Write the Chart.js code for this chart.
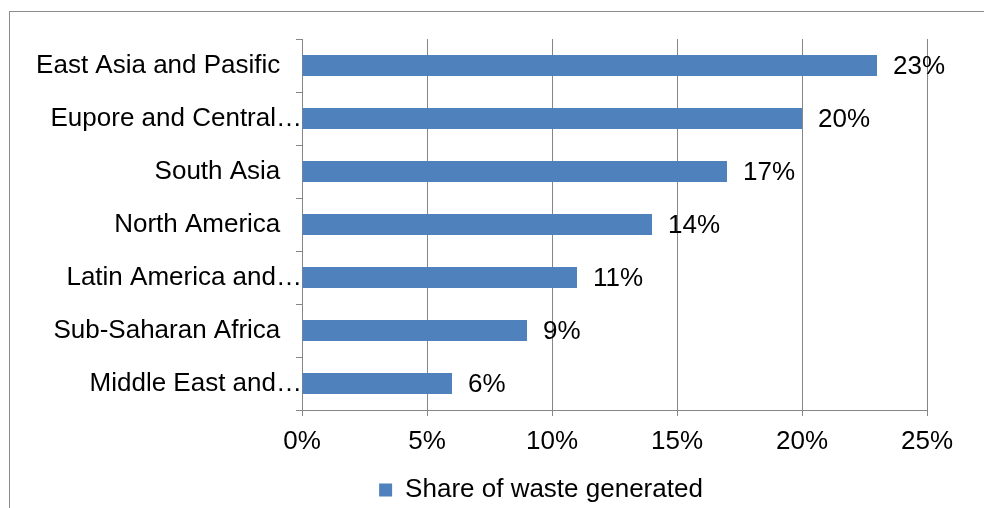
<!DOCTYPE html>
<html>
<head>
<meta charset="utf-8">
<script src="https://cdn.jsdelivr.net/npm/chart.js@4.4.0/dist/chart.umd.min.js"></script>
<style>
  html, body { margin: 0; padding: 0; background: #fff; overflow: hidden; width: 984px; height: 508px; }
  #frame {
    position: absolute; left: 9px; top: 11px;
    border-left: 1px solid #8c8c8c; border-top: 1px solid #8c8c8c;
  }
  #frame canvas { display: block; }
</style>
</head>
<body>
<div id="frame"><canvas id="myChart" width="1062" height="502"></canvas></div>
<script>
// regions, top to bottom
var regions = [
    'East Asia and Pasific',
    'Eupore and Central\u2026',
    'South Asia',
    'North America',
    'Latin America and\u2026',
    'Sub-Saharan Africa',
    'Middle East and\u2026'
];
// share of waste generated, %
var shares = [23, 20, 17, 14, 11, 9, 6];
var xTicks = [0, 5, 10, 15, 20, 25];

var seriesName = 'Share of waste generated';
var barColor = '#4f81bd';
var gridColor = '#868686';
var fontFamily = '"Liberation Sans", Arial, sans-serif';
var fontSize = 26;

Chart.defaults.font.family = fontFamily;
Chart.defaults.font.size = fontSize;
Chart.defaults.color = '#000';

// value labels to the right of each bar
var valueLabels = {
    id: 'valueLabels',
    afterDatasetsDraw: function (chart) {
        var ctx = chart.ctx;
        var meta = chart.getDatasetMeta(0);
        ctx.save();
        ctx.font = fontSize + 'px ' + fontFamily;
        ctx.fillStyle = '#000';
        ctx.textAlign = 'left';
        ctx.textBaseline = 'middle';
        meta.data.forEach(function (bar, i) {
            ctx.fillText(chart.data.datasets[0].data[i] + '%', bar.x + 16, bar.y + 1);
        });
        ctx.restore();
    }
};

var ctx = document.getElementById('myChart').getContext('2d');
var chart = new Chart(ctx, {
    type: 'bar',
    data: {
        labels: regions,
        datasets: [{
            label: seriesName,
            data: shares,
            backgroundColor: barColor,
            borderWidth: 0,
            categoryPercentage: 0.4,
            barPercentage: 1
        }]
    },
    options: {
        indexAxis: 'y',
        responsive: false,
        animation: false,
        layout: { padding: { left: 0, right: 0, top: 27, bottom: 1 } },
        scales: {
            x: {
                min: xTicks[0],
                max: xTicks[xTicks.length - 1],
                afterBuildTicks: function (scale) {
                    scale.ticks = xTicks.map(function (v) { return { value: v }; });
                },
                afterFit: function (scale) { scale.height = 57; },
                ticks: {
                    padding: 10,
                    maxRotation: 0,
                    callback: function (v) { return v + '%'; }
                },
                grid: { color: gridColor, tickLength: 6 },
                border: { color: gridColor }
            },
            y: {
                afterFit: function (scale) { scale.width = 292; },
                ticks: {
                    padding: -6,
                    callback: function (v) {
                        var s = this.getLabelForValue(v);
                        return s.slice(-1) === '\u2026' ? s : s + '   ';
                    }
                },
                grid: { color: gridColor, drawOnChartArea: false, tickLength: 6 },
                border: { color: gridColor }
            },
            // empty space on the right of the plot
            spacer: {
                type: 'linear',
                position: 'right',
                afterFit: function (scale) { scale.width = 145; },
                ticks: { display: false },
                grid: { display: false },
                border: { display: false }
            }
        },
        plugins: {
            legend: {
                position: 'bottom',
                labels: { boxWidth: 13, boxHeight: 13, padding: 10 }
            },
            tooltip: { enabled: false }
        }
    },
    plugins: [valueLabels]
});
</script>
</body>
</html>
